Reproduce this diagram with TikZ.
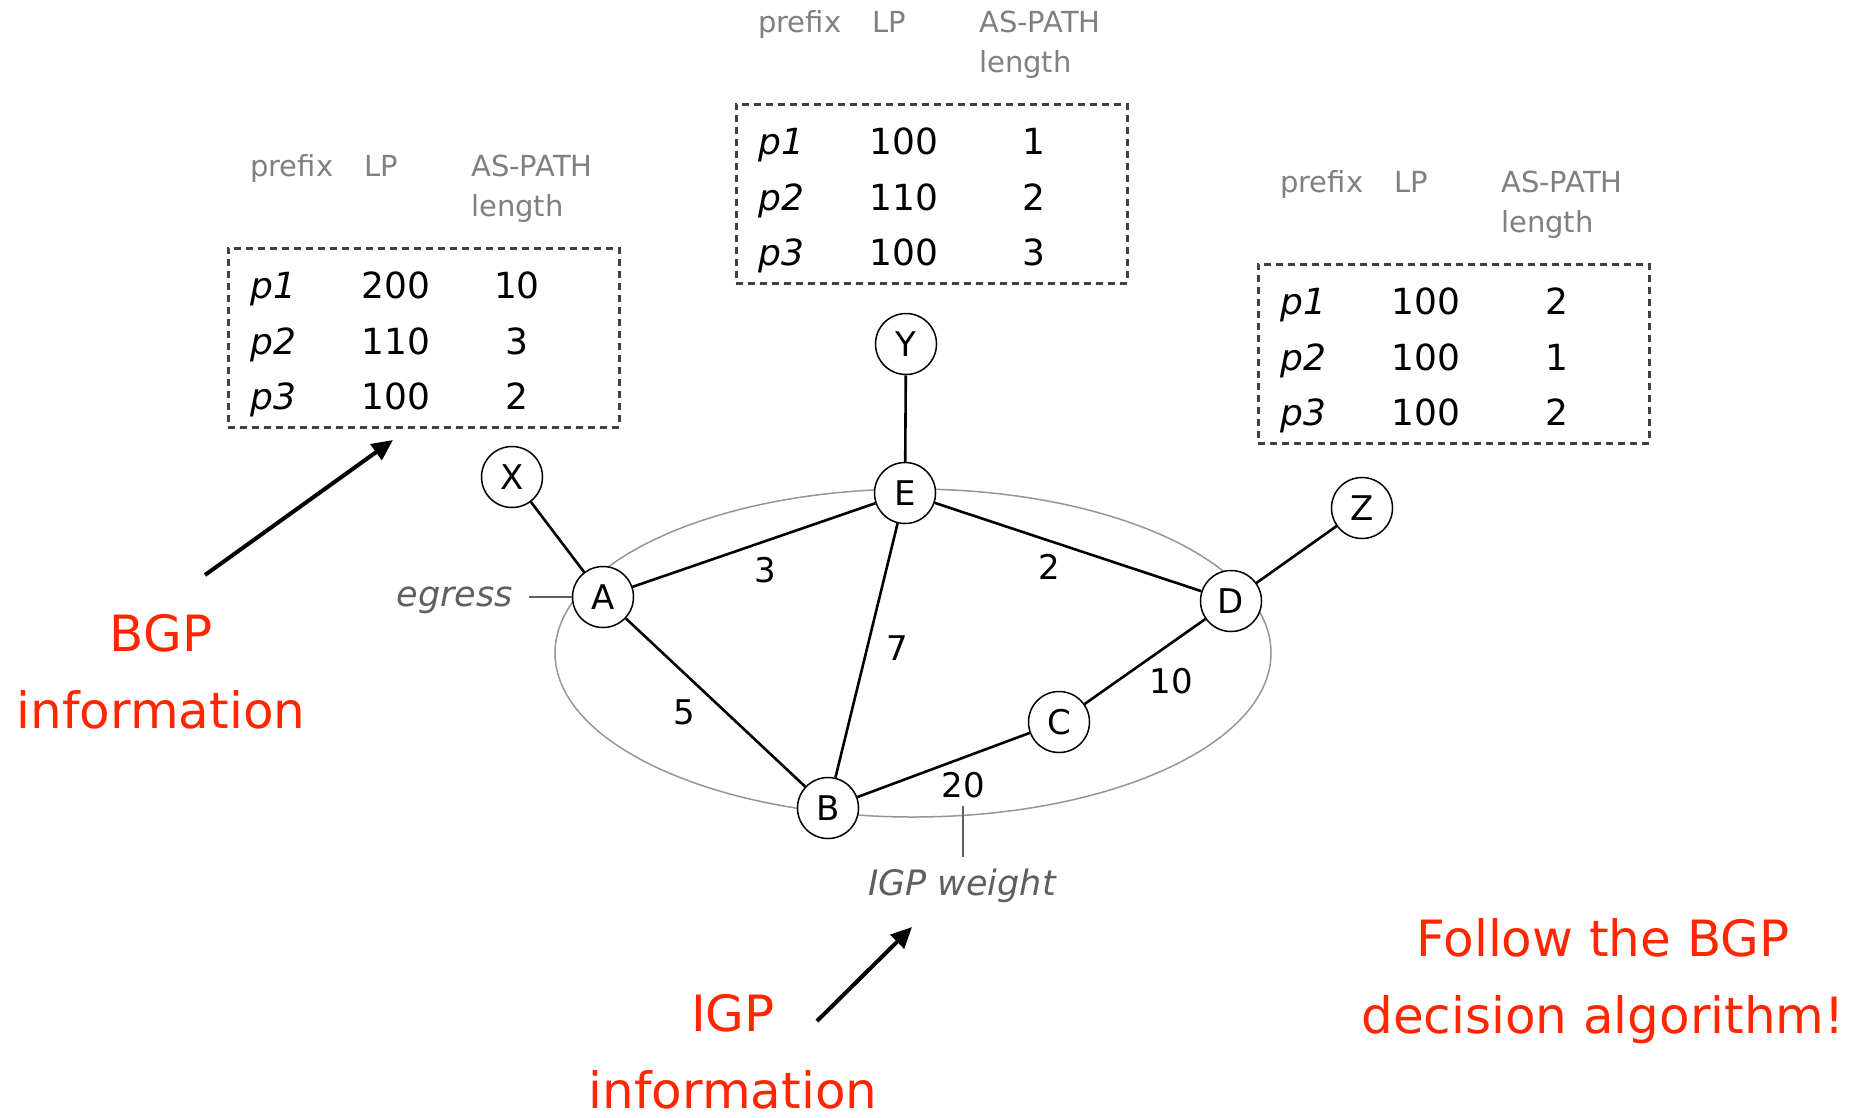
\documentclass[tikz,border=0pt]{standalone}
\usepackage{fontspec}
\setmainfont{DejaVu Sans}
\usetikzlibrary{arrows.meta}
\definecolor{hdrgray}{RGB}{128,128,128}
\definecolor{boxgray}{RGB}{64,64,64}
\definecolor{lblgray}{RGB}{95,95,95}
\definecolor{ellgray}{RGB}{150,150,150}
\definecolor{kred}{RGB}{255,38,0}
\tikzset{
  tabbox/.style={draw=boxgray, line width=2.6pt, dash pattern=on 7pt off 5pt,
    minimum width=391pt, minimum height=179pt, inner sep=0pt},
  hdr/.style={text=hdrgray, font=\fontsize{29}{34}\selectfont, inner sep=0pt},
  cell/.style={text=black, font=\fontsize{36}{42}\selectfont, inner sep=0pt},
  router/.style={circle, draw=black, line width=1.5pt, fill=white,
    minimum size=61pt, inner sep=0pt, font=\fontsize{34}{40}\selectfont},
  edge/.style={draw=black, line width=2.6pt},
  weight/.style={font=\fontsize{34}{40}\selectfont, inner sep=0pt},
  note/.style={text=lblgray, font=\fontsize{35}{40}\selectfont\itshape, inner sep=0pt},
  noteline/.style={draw=lblgray, line width=2.4pt},
  redtext/.style={text=kred, font=\fontsize{50}{77}\selectfont, align=center, inner sep=0pt},
  bigarrow/.style={draw=black, line width=4pt, -{Triangle[length=21pt,width=19pt]}}
}
\newcommand{\bgptab}[8]{%
  \node[tabbox, anchor=north west] (#1box) at (0,0) {};
  \node[hdr, anchor=base west] (#1hp) at (23,-71) {prefix};
  \node[hdr, anchor=base west] (#1hl) at (137,-71) {LP};
  \node[hdr, anchor=base west] (#1ha) at (244,-71) {AS-PATH};
  \node[hdr, anchor=base west] (#1hn) at (244,-31) {length};
  \node[cell, anchor=base west] (#1pa) at (23,51) {\itshape p1};
  \node[cell, anchor=base west] (#1pb) at (23,107) {\itshape p2};
  \node[cell, anchor=base west] (#1pc) at (23,162) {\itshape p3};
  \node[cell, anchor=base] (#1la) at (169,51) {#2};
  \node[cell, anchor=base] (#1lb) at (169,107) {#4};
  \node[cell, anchor=base] (#1lc) at (169,162) {#6};
  \node[cell, anchor=base] (#1aa) at (#8,51) {#3};
  \node[cell, anchor=base] (#1ab) at (#8,107) {#5};
  \node[cell, anchor=base] (#1ac) at (#8,162) {#7};
}
\begin{document}
\begin{tikzpicture}[x=1pt, y=-1pt]
\useasboundingbox (0,0) rectangle (1867,1117);
\fill[white] (0,0) rectangle (1867,1117);

% tables
\begin{scope}[shift={(227,247)}]
  \bgptab{ta}{200}{10}{110}{3}{100}{2}{290}
\end{scope}
\begin{scope}[shift={(735,103)}]
  \bgptab{tb}{100}{1}{110}{2}{100}{3}{299}
\end{scope}
\begin{scope}[shift={(1257,263)}]
  \bgptab{tc}{100}{2}{100}{1}{100}{2}{300}
\end{scope}

% AS ellipse
\draw[ellgray, line width=1.5pt] (913,653) ellipse [x radius=358, y radius=164];

% routers
\node[router] (X) at (512,477) {X};
\node[router] (Y) at (906,344) {Y};
\node[router] (E) at (905,493) {E};
\node[router] (A) at (603,597) {A};
\node[router] (D) at (1231,601) {D};
\node[router] (C) at (1059,722) {C};
\node[router] (B) at (828,808) {B};
\node[router] (Z) at (1362,508) {Z};

% links
\draw[edge] (X) -- (A);
\draw[edge] (A) -- (E);
\draw[edge] (E) -- (D);
\draw[edge] (A) -- (B);
\draw[edge] (E) -- (B);
\draw[edge] (B) -- (C);
\draw[edge] (C) -- (D);
\draw[edge] (Y) -- (E);
\draw[edge] (D) -- (Z);

% weights
\node[weight] (w3) at (765,570) {3};
\node[weight] (w2) at (1049,567) {2};
\node[weight] (w7) at (897,648) {7};
\node[weight] (w5) at (684,712) {5};
\node[weight] (w10) at (1171,681) {10};
\node[weight] (w20) at (963,785) {20};

% notes
\node[note, anchor=base east] (egress) at (513,606) {egress};
\draw[noteline, shorten <=16pt] (egress.east |- A.west) -- (A.west);
\node[note, anchor=base] (igpw) at (962,895) {IGP weight};
\coordinate (igptop) at (963,806);
\draw[noteline, shorten >=11pt] (igptop) -- (igptop |- igpw.north);

% red labels and arrows (base anchor = baseline of the last line)
\node[redtext, anchor=base] (bgpinfo) at (161,728) {BGP\\information};
\node[redtext, anchor=base] (igpinfo) at (733,1108) {IGP\\information};
\node[redtext, anchor=base] (follow) at (1603,1033) {Follow the BGP\\decision algorithm!};
\coordinate (bgpfrom) at (205,575);
\coordinate (bgpto) at (393,440);
\draw[bigarrow] (bgpfrom) -- (bgpto);
\coordinate (igpfrom) at (817,1021);
\coordinate (igpto) at (912,927);
\draw[bigarrow] (igpfrom) -- (igpto);
\end{tikzpicture}
\end{document}
